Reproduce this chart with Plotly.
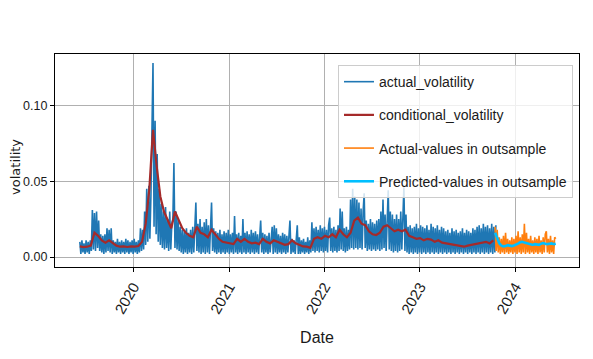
import pandas as pd
import plotly.graph_objects as go

# ---- data ----
insample_start = "2019-06-10"
outsample_start = "2023-10-16"

# actual volatility, one reading every 4 days
actual_volatility = [
    0.010, 0.002, 0.011, 0.003, 0.009, 0.002, 0.011, 0.003, 0.010, 0.002,
    0.011, 0.004, 0.031, 0.005, 0.029, 0.004, 0.030, 0.006, 0.024, 0.004,
    0.015, 0.003, 0.014, 0.002, 0.015, 0.003, 0.019, 0.004, 0.018, 0.003,
    0.019, 0.002, 0.011, 0.003, 0.010, 0.002, 0.012, 0.003, 0.010, 0.002,
    0.011, 0.003, 0.010, 0.002, 0.012, 0.003, 0.011, 0.002, 0.010, 0.003,
    0.011, 0.002, 0.012, 0.003, 0.010, 0.002, 0.011, 0.003, 0.019, 0.004,
    0.018, 0.005, 0.030, 0.008, 0.045, 0.010, 0.047, 0.012, 0.040, 0.100,
    0.128, 0.020, 0.090, 0.015, 0.068, 0.010, 0.045, 0.008, 0.035, 0.006,
    0.030, 0.005, 0.033, 0.006, 0.025, 0.004, 0.030, 0.005, 0.022, 0.025,
    0.062, 0.006, 0.030, 0.005, 0.025, 0.004, 0.020, 0.003, 0.018, 0.002,
    0.017, 0.003, 0.019, 0.002, 0.016, 0.003, 0.018, 0.002, 0.020, 0.003,
    0.019, 0.036, 0.004, 0.022, 0.003, 0.025, 0.002, 0.020, 0.003, 0.023,
    0.002, 0.025, 0.003, 0.021, 0.002, 0.020, 0.036, 0.004, 0.019, 0.003,
    0.017, 0.002, 0.016, 0.003, 0.018, 0.002, 0.015, 0.003, 0.017, 0.002,
    0.016, 0.003, 0.018, 0.002, 0.015, 0.003, 0.016, 0.002, 0.027, 0.003,
    0.015, 0.002, 0.016, 0.003, 0.014, 0.002, 0.025, 0.003, 0.016, 0.002,
    0.017, 0.003, 0.015, 0.002, 0.018, 0.003, 0.016, 0.002, 0.017, 0.003,
    0.015, 0.002, 0.018, 0.024, 0.003, 0.016, 0.002, 0.015, 0.003, 0.014,
    0.002, 0.016, 0.003, 0.015, 0.020, 0.002, 0.021, 0.003, 0.019, 0.002,
    0.015, 0.003, 0.014, 0.002, 0.016, 0.003, 0.015, 0.002, 0.014, 0.003,
    0.016, 0.024, 0.002, 0.012, 0.003, 0.011, 0.002, 0.012, 0.021, 0.002,
    0.013, 0.002, 0.011, 0.003, 0.012, 0.002, 0.010, 0.003, 0.013, 0.002,
    0.011, 0.003, 0.023, 0.004, 0.019, 0.003, 0.020, 0.004, 0.018, 0.003,
    0.021, 0.004, 0.019, 0.003, 0.020, 0.004, 0.018, 0.003, 0.021, 0.026,
    0.004, 0.019, 0.003, 0.020, 0.004, 0.018, 0.003, 0.021, 0.004, 0.032,
    0.005, 0.030, 0.004, 0.019, 0.003, 0.020, 0.004, 0.018, 0.005, 0.038,
    0.006, 0.045, 0.005, 0.040, 0.006, 0.038, 0.005, 0.036, 0.006, 0.032,
    0.005, 0.030, 0.042, 0.006, 0.024, 0.004, 0.022, 0.005, 0.025, 0.004,
    0.023, 0.005, 0.022, 0.004, 0.024, 0.005, 0.025, 0.004, 0.030, 0.005,
    0.038, 0.006, 0.028, 0.004, 0.030, 0.044, 0.005, 0.030, 0.004, 0.028,
    0.003, 0.025, 0.004, 0.028, 0.003, 0.025, 0.004, 0.030, 0.005, 0.027,
    0.046, 0.004, 0.028, 0.003, 0.020, 0.002, 0.021, 0.003, 0.019, 0.002,
    0.020, 0.003, 0.022, 0.002, 0.019, 0.003, 0.021, 0.002, 0.020, 0.003,
    0.019, 0.002, 0.021, 0.003, 0.018, 0.002, 0.022, 0.003, 0.020, 0.002,
    0.019, 0.003, 0.021, 0.002, 0.018, 0.003, 0.020, 0.002, 0.019, 0.003,
    0.017, 0.002, 0.018, 0.003, 0.016, 0.002, 0.019, 0.003, 0.017, 0.002,
    0.018, 0.003, 0.016, 0.002, 0.017, 0.003, 0.019, 0.002, 0.016, 0.003,
    0.018, 0.002, 0.017, 0.003, 0.016, 0.002, 0.019, 0.003, 0.018, 0.002,
    0.020, 0.003, 0.021, 0.002, 0.019, 0.003, 0.022, 0.002, 0.020, 0.003,
    0.021, 0.002, 0.019, 0.003, 0.022, 0.002, 0.020, 0.003, 0.021,
]

# conditional (GARCH) volatility, one reading every 14 days
conditional_volatility = [
    0.0070, 0.0065, 0.0068, 0.0075, 0.0160, 0.0140, 0.0110, 0.0095, 0.0110, 0.0090,
    0.0075, 0.0068, 0.0070, 0.0066, 0.0070, 0.0068, 0.0072, 0.0100, 0.0220, 0.0450,
    0.0840, 0.0600, 0.0400, 0.0300, 0.0240, 0.0190, 0.0300, 0.0240, 0.0190, 0.0160,
    0.0140, 0.0130, 0.0200, 0.0160, 0.0150, 0.0130, 0.0180, 0.0150, 0.0120, 0.0100,
    0.0095, 0.0090, 0.0085, 0.0120, 0.0100, 0.0120, 0.0100, 0.0090, 0.0095, 0.0085,
    0.0120, 0.0100, 0.0090, 0.0110, 0.0100, 0.0085, 0.0080, 0.0085, 0.0110, 0.0090,
    0.0080, 0.0070, 0.0068, 0.0060, 0.0120, 0.0130, 0.0120, 0.0140, 0.0130, 0.0150,
    0.0130, 0.0180, 0.0150, 0.0130, 0.0160, 0.0240, 0.0260, 0.0220, 0.0210, 0.0170,
    0.0150, 0.0145, 0.0160, 0.0200, 0.0210, 0.0190, 0.0170, 0.0180, 0.0170, 0.0180,
    0.0140, 0.0130, 0.0120, 0.0125, 0.0110, 0.0120, 0.0115, 0.0100, 0.0110, 0.0095,
    0.0090, 0.0085, 0.0080, 0.0075, 0.0070, 0.0068, 0.0075, 0.0080, 0.0085, 0.0090,
    0.0095, 0.0100, 0.0090, 0.0110,
]

# out-of-sample actual values, one reading every 4 days
outsample_actual = [
    0.020, 0.004, 0.018, 0.003, 0.013, 0.002, 0.012, 0.003, 0.014, 0.002,
    0.016, 0.003, 0.012, 0.002, 0.011, 0.003, 0.013, 0.002, 0.012, 0.003,
    0.014, 0.002, 0.017, 0.003, 0.013, 0.002, 0.015, 0.003, 0.022, 0.002,
    0.016, 0.003, 0.012, 0.002, 0.014, 0.003, 0.011, 0.002, 0.013, 0.003,
    0.012, 0.002, 0.014, 0.003, 0.011, 0.002, 0.013, 0.003, 0.015, 0.017,
    0.003, 0.012, 0.002, 0.014, 0.003, 0.011, 0.002, 0.013, 0.012,
]

# out-of-sample predicted values, one reading every 8 days
outsample_predicted = [
    0.0160, 0.0120, 0.0090, 0.0075, 0.0070, 0.0072, 0.0078, 0.0075, 0.0072, 0.0076,
    0.0080, 0.0088, 0.0098, 0.0100, 0.0095, 0.0090, 0.0085, 0.0082, 0.0080, 0.0085,
    0.0082, 0.0080, 0.0088, 0.0092, 0.0088, 0.0085, 0.0088, 0.0090, 0.0085, 0.0088,
]

y_ticks = [0.00, 0.05, 0.10]
x_ticks = ["2020-01-01", "2021-01-01", "2022-01-01", "2023-01-01", "2024-01-01"]
x_tick_labels = ["2020", "2021", "2022", "2023", "2024"]

# ---- dates via pandas ----
d_actual = pd.date_range(insample_start, periods=len(actual_volatility), freq="4D")
d_cond = pd.date_range(insample_start, periods=len(conditional_volatility), freq="14D")
d_out = pd.date_range(outsample_start, periods=len(outsample_actual), freq="4D")
d_pred = pd.date_range(outsample_start, periods=len(outsample_predicted), freq="8D")

FONT = "Liberation Sans, Arial, sans-serif"

fig = go.Figure()
fig.add_trace(go.Scatter(x=d_actual, y=actual_volatility, mode="lines",
                         name="actual_volatility", legendgroup="a",
                         line=dict(color="#1f77b4", width=1.6)))
fig.add_trace(go.Scatter(x=d_cond, y=conditional_volatility, mode="lines",
                         name="conditional_volatility", legendgroup="b",
                         line=dict(color="#a52a2a", width=2.2)))
fig.add_trace(go.Scatter(x=d_out, y=outsample_actual, mode="lines",
                         name="Actual-values in outsample", legendgroup="c",
                         line=dict(color="#ff7f0e", width=1.6)))
fig.add_trace(go.Scatter(x=d_pred, y=outsample_predicted, mode="lines",
                         name="Predicted-values in outsample", legendgroup="d",
                         line=dict(color="#00bfff", width=2.6)))

fig.update_layout(
    width=585, height=351,
    margin=dict(l=47, r=14, t=46, b=92, autoexpand=False),
    paper_bgcolor="white", plot_bgcolor="white",
    font=dict(family=FONT, size=15, color="#1a1a1a"),
    showlegend=True,
    legend=dict(x=0.9885, y=0.948, xanchor="right", yanchor="top",
                bgcolor="rgba(255,255,255,0.8)", bordercolor="#cccccc", borderwidth=1,
                font=dict(family=FONT, size=14, color="#1a1a1a"),
                tracegroupgap=12, itemwidth=30),
    annotations=[dict(text="volatility", textangle=-90, xref="paper", yref="paper",
                      x=-0.0744, y=0.47, xanchor="center", yanchor="middle",
                      showarrow=False, borderpad=0,
                      font=dict(family="DejaVu Sans", size=13, color="#1a1a1a"))],
)
fig.update_xaxes(
    range=["2019-03-07", "2024-09-01"],
    tickvals=x_ticks, ticktext=x_tick_labels, tickangle=-60,
    showgrid=True, gridcolor="#b0b0b0", gridwidth=1.2,
    showline=True, linecolor="black", linewidth=1.3, mirror=True,
    ticks="outside", ticklen=4, tickcolor="black",
    title=dict(text="Date", font=dict(family=FONT, size=16)),
    zeroline=False, automargin=False,
)
fig.update_yaxes(
    range=[-0.0066, 0.134],
    tickvals=y_ticks, tickformat=".2f", tickfont=dict(size=12.5),
    showgrid=True, gridcolor="#b0b0b0", gridwidth=1.2,
    showline=True, linecolor="black", linewidth=1.3, mirror=True,
    ticks="outside", ticklen=4, tickcolor="black",
    zeroline=False, automargin=False,
)

fig.write_html("out.html")
